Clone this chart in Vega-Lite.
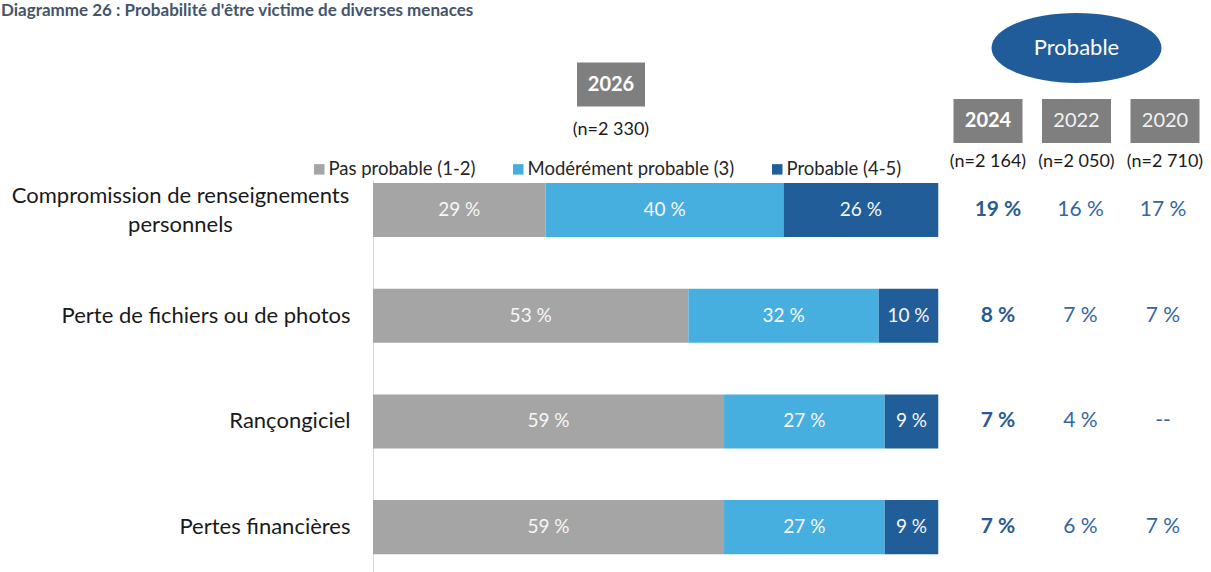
{
  "$schema": "https://vega.github.io/schema/vega-lite/v6.json",
  "width": 1211,
  "height": 572,
  "autosize": "none",
  "padding": 0,
  "background": "white",
  "title": {
    "text": "Diagramme 26 : Probabilité d'être victime de diverses menaces",
    "anchor": "start",
    "frame": "group",
    "orient": "top",
    "offset": 0,
    "dx": 1,
    "dy": 33,
    "baseline": "alphabetic",
    "fontSize": 17,
    "fontWeight": "bold",
    "font": "Lato",
    "color": "#44546A"
  },
  "config": {
    "view": {"stroke": null},
    "font": "Lato",
    "locale": {
      "number": {"decimal": ",", "thousands": "\u00a0", "grouping": [3], "currency": ["", " €"], "percent": " %"}
    }
  },
  "datasets": {
    "reponses": [
      {"menace": "Compromission de renseignements personnels", "niveau": "Pas probable (1-2)", "echelle": "1-2", "p": 0.29},
      {"menace": "Compromission de renseignements personnels", "niveau": "Modérément probable (3)", "echelle": "3", "p": 0.40},
      {"menace": "Compromission de renseignements personnels", "niveau": "Probable (4-5)", "echelle": "4-5", "p": 0.26},
      {"menace": "Perte de fichiers ou de photos", "niveau": "Pas probable (1-2)", "echelle": "1-2", "p": 0.53},
      {"menace": "Perte de fichiers ou de photos", "niveau": "Modérément probable (3)", "echelle": "3", "p": 0.32},
      {"menace": "Perte de fichiers ou de photos", "niveau": "Probable (4-5)", "echelle": "4-5", "p": 0.10},
      {"menace": "Rançongiciel", "niveau": "Pas probable (1-2)", "echelle": "1-2", "p": 0.59},
      {"menace": "Rançongiciel", "niveau": "Modérément probable (3)", "echelle": "3", "p": 0.27},
      {"menace": "Rançongiciel", "niveau": "Probable (4-5)", "echelle": "4-5", "p": 0.09},
      {"menace": "Pertes financières", "niveau": "Pas probable (1-2)", "echelle": "1-2", "p": 0.59},
      {"menace": "Pertes financières", "niveau": "Modérément probable (3)", "echelle": "3", "p": 0.27},
      {"menace": "Pertes financières", "niveau": "Probable (4-5)", "echelle": "4-5", "p": 0.09}
    ],
    "probable": [
      {"menace": "Compromission de renseignements personnels", "annee": "2024", "p": 0.19},
      {"menace": "Compromission de renseignements personnels", "annee": "2022", "p": 0.16},
      {"menace": "Compromission de renseignements personnels", "annee": "2020", "p": 0.17},
      {"menace": "Perte de fichiers ou de photos", "annee": "2024", "p": 0.08},
      {"menace": "Perte de fichiers ou de photos", "annee": "2022", "p": 0.07},
      {"menace": "Perte de fichiers ou de photos", "annee": "2020", "p": 0.07},
      {"menace": "Rançongiciel", "annee": "2024", "p": 0.07},
      {"menace": "Rançongiciel", "annee": "2022", "p": 0.04},
      {"menace": "Rançongiciel", "annee": "2020", "p": null},
      {"menace": "Pertes financières", "annee": "2024", "p": 0.07},
      {"menace": "Pertes financières", "annee": "2022", "p": 0.06},
      {"menace": "Pertes financières", "annee": "2020", "p": 0.07}
    ],
    "entetes": [
      {"annee": "2024", "n": "(n=2 164)"},
      {"annee": "2022", "n": "(n=2 050)"},
      {"annee": "2020", "n": "(n=2 710)"}
    ],
    "entete2026": [
      {"annee": "2026", "n": "(n=2 330)"}
    ]
  },
  "resolve": {"scale": {"x": "independent", "y": "independent"}},
  "layer": [
    {
      "data": {"name": "reponses"},
      "transform": [
        {"stack": "p", "groupby": ["menace"], "sort": [{"field": "echelle", "order": "ascending"}], "as": ["debut", "fin"]}
      ],
      "encoding": {
        "y": {
          "field": "menace",
          "type": "nominal",
          "scale": {
            "type": "band",
            "domain": ["Compromission de renseignements personnels", "Perte de fichiers ou de photos", "Rançongiciel", "Pertes financières"],
            "range": [180, 600],
            "paddingInner": 0.489,
            "paddingOuter": 0.231,
            "align": 0.061
          },
          "axis": {
            "orient": "left",
            "offset": -373,
            "title": null,
            "ticks": false,
            "domainColor": "#D9D9D9",
            "domainWidth": 1,
            "labelFont": "Lato",
            "labelFontSize": 22,
            "labelColor": "#1A1A1A",
            "labelPadding": 23,
            "labelLimit": 500,
            "labelExpr": "datum.value == 'Compromission de renseignements personnels' ? '' : datum.label"
          }
        }
      },
      "layer": [
        {
          "mark": {"type": "bar"},
          "encoding": {
            "x": {"field": "debut", "type": "quantitative", "scale": {"domain": [0, 1], "range": [373, 968], "nice": false}, "axis": null},
            "x2": {"field": "fin"},
            "color": {
              "field": "niveau",
              "type": "nominal",
              "scale": {
                "domain": ["Pas probable (1-2)", "Modérément probable (3)", "Probable (4-5)"],
                "range": ["#A5A5A5", "#47AEE0", "#215E99"]
              },
              "legend": {
                "orient": "none",
                "legendX": 310,
                "legendY": 160,
                "direction": "horizontal",
                "title": null,
                "padding": 0,
                "symbolType": "square",
                "symbolSize": 110,
                "symbolStrokeWidth": 0,
                "labelFont": "Lato",
                "labelFontSize": 18.5,
                "labelColor": "#262626",
                "labelOffset": 0,
                "columnPadding": 33,
                "labelLimit": 400
              }
            }
          }
        },
        {
          "transform": [
            {"fold": ["debut", "fin"], "as": ["borne", "v"]},
            {"aggregate": [{"op": "mean", "field": "v", "as": "milieu"}], "groupby": ["menace", "niveau", "p"]}
          ],
          "mark": {"type": "text", "color": "#F7F7F7", "fontSize": 19},
          "encoding": {
            "x": {"field": "milieu", "type": "quantitative", "scale": {"domain": [0, 1], "range": [373, 968], "nice": false}, "axis": null},
            "text": {"field": "p", "type": "quantitative", "format": ".0%"}
          }
        }
      ]
    },
    {
      "data": {"name": "probable"},
      "encoding": {
        "x": {"field": "annee", "type": "ordinal", "scale": {"type": "point", "domain": ["2024", "2022", "2020"], "range": [998, 1163], "padding": 0}, "axis": null},
        "y": {
          "field": "menace",
          "type": "nominal",
          "scale": {
            "type": "band",
            "domain": ["Compromission de renseignements personnels", "Perte de fichiers ou de photos", "Rançongiciel", "Pertes financières"],
            "range": [180, 600],
            "paddingInner": 0.489,
            "paddingOuter": 0.231,
            "align": 0.061
          },
          "axis": {
            "orient": "left",
            "offset": -373,
            "title": null,
            "ticks": false,
            "domain": false,
            "labelFont": "Lato",
            "labelFontSize": 22,
            "labelColor": "#1A1A1A",
            "labelAlign": "center",
            "labelPadding": 193,
            "labelOffset": -14,
            "labelLineHeight": 29,
            "labelLimit": 500,
            "labelExpr": "datum.value == 'Compromission de renseignements personnels' ? ['Compromission de renseignements', 'personnels'] : ''"
          }
        }
      },
      "layer": [
        {
          "transform": [{"filter": "datum.p != null && datum.annee == '2024'"}],
          "mark": {"type": "text", "fontSize": 21, "fontWeight": "bold", "color": "#2A5A92"},
          "encoding": {"text": {"field": "p", "type": "quantitative", "format": ".0%"}}
        },
        {
          "transform": [{"filter": "datum.p != null && datum.annee != '2024'"}],
          "mark": {"type": "text", "fontSize": 21, "color": "#3466A3"},
          "encoding": {"text": {"field": "p", "type": "quantitative", "format": ".0%"}}
        },
        {
          "transform": [{"filter": "datum.p == null"}],
          "mark": {"type": "text", "fontSize": 21, "color": "#3466A3"},
          "encoding": {"text": {"value": "--"}}
        }
      ]
    },
    {
      "data": {"name": "entetes"},
      "encoding": {
        "x": {"field": "annee", "type": "ordinal", "scale": {"type": "point", "domain": ["2024", "2022", "2020"], "range": [988, 1165], "padding": 0}, "axis": null}
      },
      "layer": [
        {
          "data": {"values": [{"groupe": "Probable"}]},
          "mark": {"type": "point", "shape": "M-4,0A4,1.647,0,1,1,4,0A4,1.647,0,1,1,-4,0Z", "filled": true, "size": 1806, "color": "#1F5C99", "opacity": 1, "strokeWidth": 0},
          "encoding": {
            "x": {"datum": "2022", "type": "ordinal", "scale": {"type": "point", "domain": ["2024", "2022", "2020"], "range": [988, 1165], "padding": 0}, "axis": null},
            "y": {"datum": "groupe", "type": "ordinal", "scale": {"type": "point", "domain": ["groupe", "annee2026", "annee"], "range": [48, 121], "padding": 0}, "axis": null}
          }
        },
        {
          "data": {"values": [{"groupe": "Probable"}]},
          "mark": {"type": "text", "fontSize": 22, "color": "#FFFFFF"},
          "encoding": {
            "x": {"datum": "2022", "type": "ordinal", "scale": {"type": "point", "domain": ["2024", "2022", "2020"], "range": [988, 1165], "padding": 0}, "axis": null},
            "y": {"datum": "groupe", "type": "ordinal", "scale": {"type": "point", "domain": ["groupe", "annee2026", "annee"], "range": [48, 121], "padding": 0}, "axis": null},
            "text": {"field": "groupe"}
          }
        },
        {
          "mark": {"type": "point", "shape": "M-1,-0.638H1V0.638H-1Z", "filled": true, "size": 4761, "color": "#7F7F7F", "opacity": 1, "strokeWidth": 0},
          "encoding": {
            "y": {"datum": "annee", "type": "ordinal", "scale": {"type": "point", "domain": ["groupe", "annee2026", "annee"], "range": [48, 121], "padding": 0}, "axis": null}
          }
        },
        {
          "transform": [{"filter": "datum.annee == '2024'"}],
          "mark": {"type": "text", "fontSize": 20, "fontWeight": "bold", "color": "#FFFFFF"},
          "encoding": {
            "y": {"datum": "annee", "type": "ordinal", "scale": {"type": "point", "domain": ["groupe", "annee2026", "annee"], "range": [48, 121], "padding": 0}, "axis": null},
            "text": {"field": "annee"}
          }
        },
        {
          "transform": [{"filter": "datum.annee != '2024'"}],
          "mark": {"type": "text", "fontSize": 20, "color": "#F2F2F2"},
          "encoding": {
            "y": {"datum": "annee", "type": "ordinal", "scale": {"type": "point", "domain": ["groupe", "annee2026", "annee"], "range": [48, 121], "padding": 0}, "axis": null},
            "text": {"field": "annee"}
          }
        },
        {
          "mark": {"type": "text", "fontSize": 18, "color": "#1A1A1A", "dy": 41},
          "encoding": {
            "y": {"datum": "annee", "type": "ordinal", "scale": {"type": "point", "domain": ["groupe", "annee2026", "annee"], "range": [48, 121], "padding": 0}, "axis": null},
            "text": {"field": "n"}
          }
        }
      ]
    },
    {
      "data": {"name": "entete2026"},
      "encoding": {
        "x": {"field": "annee", "type": "ordinal", "scale": {"type": "point", "domain": ["2026"], "range": [577, 645], "padding": 0.5}, "axis": null},
        "y": {"datum": "annee2026", "type": "ordinal", "scale": {"type": "point", "domain": ["groupe", "annee2026", "annee"], "range": [48, 121], "padding": 0}, "axis": null}
      },
      "layer": [
        {
          "mark": {"type": "point", "shape": "M-1,-0.647H1V0.647H-1Z", "filled": true, "size": 4624, "color": "#7F7F7F", "opacity": 1, "strokeWidth": 0}
        },
        {
          "mark": {"type": "text", "fontSize": 20, "fontWeight": "bold", "color": "#FFFFFF"},
          "encoding": {"text": {"field": "annee"}}
        },
        {
          "mark": {"type": "text", "fontSize": 18, "color": "#1A1A1A", "dy": 45},
          "encoding": {"text": {"field": "n"}}
        }
      ]
    }
  ]
}
